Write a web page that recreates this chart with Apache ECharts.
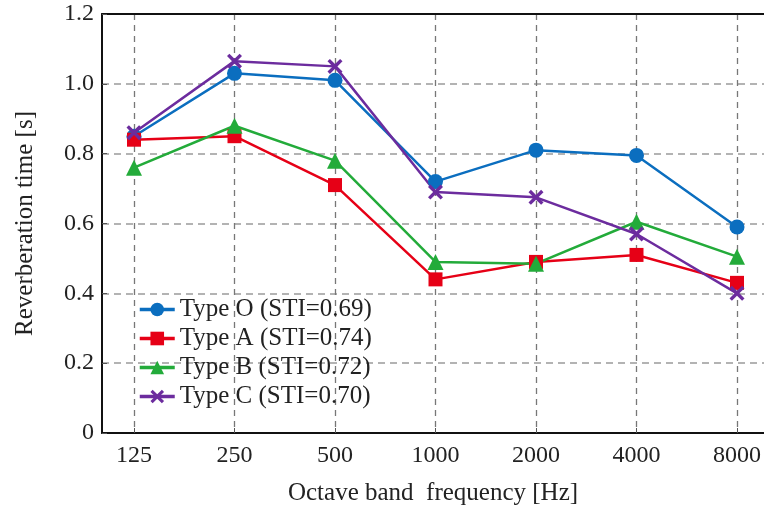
<!DOCTYPE html>
<html>
<head>
<meta charset="utf-8">
<script src="https://cdn.jsdelivr.net/npm/echarts@6/dist/echarts.min.js"></script>
<style>
  html, body { margin: 0; padding: 0; background: #fff; }
  #chart { width: 764px; height: 508px; }
</style>
</head>
<body>
<div id="chart"></div>
<script>
// octave band centre frequencies
const freqs = ["125", "250", "500", "1000", "2000", "4000", "8000"];
const yTicks = ["0", "0.2", "0.4", "0.6", "0.8", "1.0", "1.2"];

// reverberation time [s]
const typeO = [0.85, 1.03, 1.01, 0.72, 0.81, 0.795, 0.59];
const typeA = [0.84, 0.85, 0.71, 0.44, 0.49, 0.51, 0.43];
const typeB = [0.76, 0.88, 0.78, 0.49, 0.485, 0.605, 0.505];
const typeC = [0.86, 1.065, 1.05, 0.69, 0.675, 0.57, 0.40];

const seriesNames = [
  "Type O (STI=0.69)",
  "Type A (STI=0.74)",
  "Type B (STI=0.72)",
  "Type C (STI=0.70)"
];

const FONT = "Liberation Serif";
// bold "x" marker drawn as a filled outline
const crossPath = "path://M0,1.6 L1.6,0 L5,3.4 L8.4,0 L10,1.6 L6.6,5 L10,8.4 L8.4,10 L5,6.6 L1.6,10 L0,8.4 L3.4,5 Z";

const chart = echarts.init(document.getElementById("chart"));

const mkSeries = (name, data, color, symbol, size) => ({
  name,
  type: "line",
  xAxisIndex: 2,
  yAxisIndex: 1,
  data,
  symbol,
  symbolSize: size,
  itemStyle: { color },
  lineStyle: { color, width: 2.5 },
  emphasis: { disabled: true }
});

const option = {
  animation: false,
  grid: [
    // frame
    { left: 102, right: 0, top: 14, bottom: 75, outerBoundsMode: "none", containLabel: false },
    // data area (points are inset from the frame)
    { left: 134, right: 27, top: 14, bottom: 75, outerBoundsMode: "none", containLabel: false }
  ],
  legend: {
    orient: "vertical",
    left: 133,
    top: 292,
    itemWidth: 35,
    itemHeight: 17,
    itemGap: 4,
    lineStyle: { width: 3.5 },
    textStyle: { fontFamily: FONT, fontSize: 25, color: "#222", lineHeight: 25 },
    data: seriesNames
  },
  xAxis: [
    {
      gridIndex: 0, type: "value", min: 0, max: 1, position: "bottom",
      axisLine: { show: true, lineStyle: { color: "#111", width: 2 } },
      axisTick: { show: false }, axisLabel: { show: false }, splitLine: { show: false },
      name: "Octave band  frequency [Hz]",
      nameLocation: "middle",
      nameGap: 48,
      nameTextStyle: { fontFamily: FONT, fontSize: 25, color: "#222" }
    },
    {
      gridIndex: 0, type: "value", min: 0, max: 1, position: "top",
      axisLine: { show: true, lineStyle: { color: "#111", width: 2 } },
      axisTick: { show: false }, axisLabel: { show: false }, splitLine: { show: false }
    },
    {
      gridIndex: 1, type: "category", data: freqs, boundaryGap: false,
      axisLine: { show: false },
      axisTick: { show: true, inside: true, length: 5, lineStyle: { color: "#555", width: 1 } },
      axisLabel: { fontFamily: FONT, fontSize: 24, color: "#222", margin: 11 },
      splitLine: { show: true, lineStyle: { color: "#777", type: [6, 5], width: 1.3 } }
    }
  ],
  yAxis: [
    {
      gridIndex: 0, type: "value", min: 0, max: 1.2, interval: 0.2,
      axisLine: { show: true, lineStyle: { color: "#111", width: 2 } },
      axisTick: { show: true, inside: true, length: 5, lineStyle: { color: "#555" } },
      axisLabel: {
        fontFamily: FONT, fontSize: 24, color: "#222", margin: 8,
        formatter: (v) => yTicks[Math.round(v / 0.2)]
      },
      splitLine: {
        show: true, showMinLine: false, showMaxLine: false,
        lineStyle: { color: "#9a9a9a", type: [7, 5], width: 1.5 }
      },
      name: "Reverberation time [s]",
      nameLocation: "middle",
      nameGap: 64,
      nameTextStyle: { fontFamily: FONT, fontSize: 25, color: "#222" }
    },
    { gridIndex: 1, type: "value", min: 0, max: 1.2, show: false }
  ],
  series: [
    mkSeries(seriesNames[0], typeO, "#0b6ebf", "circle", 15),
    mkSeries(seriesNames[1], typeA, "#e60016", "rect", 14),
    mkSeries(seriesNames[2], typeB, "#23ab3a", "triangle", 16),
    mkSeries(seriesNames[3], typeC, "#6c2c9e", crossPath, 15)
  ]
};

chart.setOption(option);
window.addEventListener("resize", chart.resize);
</script>
</body>
</html>
